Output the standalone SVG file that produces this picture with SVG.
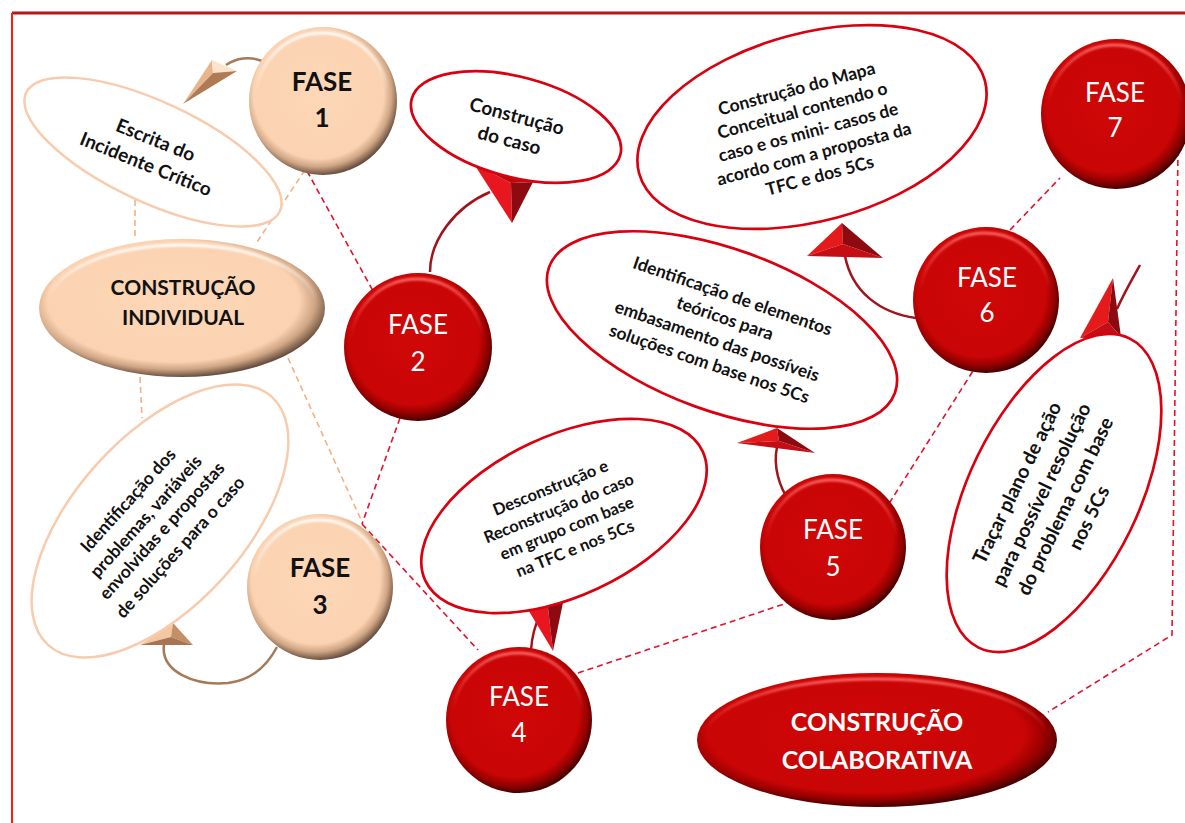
<svg xmlns="http://www.w3.org/2000/svg" width="1185" height="823" viewBox="0 0 1185 823">
<defs>
<style>
  text{font-family:Lato,"Liberation Sans",sans-serif;text-anchor:middle}
  .lbl{font-weight:700;fill:#111}
  .fp{font-size:26px;font-weight:700;fill:#111}
  .fr{font-size:26px;font-weight:400;fill:#fff}
  .dp{fill:none;stroke:#f4b183;stroke-width:1.6;stroke-dasharray:6 4}
  .dr{fill:none;stroke:#e3122b;stroke-width:1.6;stroke-dasharray:6 4}
  .cp{fill:none;stroke:#a47a58;stroke-width:2.5}
  .cr{fill:none;stroke:#a0141c;stroke-width:2.5}
  .ep{fill:#fff;stroke:#f8cbad;stroke-width:2.5}
  .er{fill:#fff;stroke:#d9000f;stroke-width:2.7}
  .hiP{fill:none;stroke:url(#gPeachHi);stroke-width:3}
  .hiR{fill:none;stroke:url(#gRedHi);stroke-width:3}
</style>
<radialGradient id="gRed" cx="0.47" cy="0.45" r="0.55">
  <stop offset="0" stop-color="#cf0707"/>
  <stop offset="0.8" stop-color="#c90505"/>
  <stop offset="0.9" stop-color="#9a0000"/>
  <stop offset="1" stop-color="#480000"/>
</radialGradient>
<radialGradient id="gPeach" cx="0.47" cy="0.45" r="0.55">
  <stop offset="0" stop-color="#fdd7b7"/>
  <stop offset="0.8" stop-color="#fbd3b2"/>
  <stop offset="0.9" stop-color="#cfa584"/>
  <stop offset="1" stop-color="#6a5040"/>
</radialGradient>
<linearGradient id="gRedHi" x1="0" y1="0" x2="0" y2="1">
  <stop offset="0" stop-color="#ff6a6a" stop-opacity="0.95"/>
  <stop offset="0.45" stop-color="#ff4040" stop-opacity="0"/>
</linearGradient>
<linearGradient id="gPeachHi" x1="0" y1="0" x2="0" y2="1">
  <stop offset="0" stop-color="#ffffff" stop-opacity="0.95"/>
  <stop offset="0.45" stop-color="#ffffff" stop-opacity="0"/>
</linearGradient>
<filter id="soft" x="-10%" y="-10%" width="120%" height="120%">
  <feGaussianBlur stdDeviation="0.8"/>
</filter>
</defs>

<rect width="1185" height="823" fill="#fff"/>

<!-- page frame -->
<g id="frame">
  <line x1="12" y1="13" x2="1185" y2="13" stroke="#b3171c" stroke-width="3"/>
  <line x1="12" y1="13" x2="12" y2="823" stroke="#ff1a1a" stroke-width="2"/>
</g>

<!-- connectors: dashed links, curved arrows and their faceted heads -->
<g id="connectors">
  <line class="dp" x1="135" y1="200" x2="135" y2="240"/>
  <line class="dp" x1="140" y1="377" x2="142" y2="418"/>
  <line class="dp" x1="305" y1="170" x2="255" y2="245"/>
  <line class="dp" x1="288" y1="358" x2="362" y2="522"/>

  <line class="dr" x1="307" y1="171" x2="378" y2="300"/>
  <line class="dr" x1="400" y1="418" x2="362" y2="524"/>
  <line class="dr" x1="362" y1="524" x2="478" y2="650"/>
  <line class="dr" x1="578" y1="673" x2="787" y2="603"/>
  <line class="dr" x1="978" y1="363" x2="890" y2="502"/>
  <line class="dr" x1="1010" y1="230" x2="1060" y2="178"/>
  <polyline class="dr" points="1178,150 1172,635 1048,712"/>

  <!-- FASE 1 -> Escrita -->
  <path class="cp" d="M226,65 C236,58 250,56 262,61"/>
  <polygon points="213,73 183,104 212,60" fill="#e9b58c"/>
  <polygon points="213,73 212,60 237,71" fill="#fbe3cc"/>
  <polygon points="213,73 237,71 183,104" fill="#b07a55"/>

  <!-- FASE 2 -> Construção do caso -->
  <path class="cr" d="M430,272 C430,240 455,207 490,192"/>
  <polygon points="511,183 474,164 512,223" fill="#e8161e"/>
  <polygon points="511,183 533,182 512,223" fill="#8c0a10"/>
  <polygon points="511,183 474,164 533,182" fill="#b80a10"/>

  <!-- FASE 3 -> Identificação dos problemas -->
  <path class="cp" d="M164,644 C160,672 195,686 228,683 C254,680 268,664 277,647"/>
  <polygon points="171,637 140,645 173,623" fill="#f3c7a2"/>
  <polygon points="171,637 173,623 193,645" fill="#c48e66"/>
  <polygon points="171,637 193,645 140,645" fill="#a87452"/>

  <!-- FASE 4 -> Desconstrução -->
  <path class="cr" d="M531,650 C532,636 535,625 540,615"/>
  <polygon points="548,608 521,598 553,651" fill="#e8161e"/>
  <polygon points="548,608 565,593 553,651" fill="#8c0a10"/>
  <polygon points="548,608 521,598 565,593" fill="#b80a10"/>

  <!-- FASE 5 -> Identificação de elementos -->
  <path class="cr" d="M790,502 C779,487 773,466 777,447"/>
  <polygon points="779,441 737,443 777,428" fill="#e51a1a"/>
  <polygon points="779,441 777,428 815,453" fill="#8c0a10"/>
  <polygon points="779,441 815,453 737,443" fill="#c40d14"/>

  <!-- FASE 6 -> Mapa Conceitual -->
  <path class="cr" d="M916,318 C880,313 852,292 845,256"/>
  <polygon points="843,244 807,256 842,223" fill="#e51a1a"/>
  <polygon points="843,244 842,223 883,258" fill="#8c0a10"/>
  <polygon points="843,244 883,258 807,256" fill="#c40d14"/>

  <!-- FASE 7 -> Traçar plano -->
  <path class="cr" d="M1117,309 C1124,293 1131,281 1140,265"/>
  <polygon points="1108,322 1113,278 1080,338" fill="#e51a1a"/>
  <polygon points="1108,322 1113,278 1121,337" fill="#8c0a10"/>
  <polygon points="1108,322 1080,338 1121,337" fill="#c40d14"/>
</g>

<!-- individual construction: text balloons -->
<g id="escrita">
  <ellipse class="ep" cx="0" cy="0" rx="140" ry="50" transform="translate(153,152) rotate(25)"/>
  <g transform="translate(153,152) rotate(22)" class="lbl" font-size="19">
    <text x="-2" y="-5.5">Escrita do</text>
    <text x="-2" y="20.5">Incidente Crítico</text>
  </g>
</g>

<g id="problemas">
  <ellipse class="ep" cx="0" cy="0" rx="85" ry="167" transform="translate(160,521) rotate(42)"/>
  <g transform="translate(160,521) rotate(-48)" class="lbl" font-size="17.5">
    <text x="-6" y="-31.5">Identificação dos</text>
    <text x="-6" y="-7.5">problemas, variáveis</text>
    <text x="-6" y="14">envolvidas e propostas</text>
    <text x="-6" y="38.5">de soluções para o caso</text>
  </g>
</g>

<g id="construcao-individual">
  <ellipse cx="182" cy="308" rx="143" ry="69" fill="url(#gPeach)"/>
  <ellipse class="hiP" cx="182" cy="306" rx="134" ry="61" filter="url(#soft)"/>
  <text class="lbl" x="183" y="295" font-size="21">CONSTRUÇÃO</text>
  <text class="lbl" x="183" y="325" font-size="21">INDIVIDUAL</text>
</g>

<g id="fase1">
  <circle cx="323" cy="101" r="74" fill="url(#gPeach)"/>
  <circle class="hiP" cx="322" cy="99" r="66" filter="url(#soft)"/>
  <text class="fp" x="322" y="91">FASE</text>
  <text class="fp" x="322" y="127">1</text>
</g>

<g id="fase3">
  <circle cx="320" cy="587" r="73" fill="url(#gPeach)"/>
  <circle class="hiP" cx="319" cy="585" r="65" filter="url(#soft)"/>
  <text class="fp" x="320" y="577">FASE</text>
  <text class="fp" x="320" y="614">3</text>
</g>

<!-- collaborative construction: text balloons -->
<g id="caso">
  <ellipse class="er" cx="0" cy="0" rx="108" ry="50" transform="translate(516,127) rotate(15)"/>
  <g transform="translate(516,127) rotate(15)" class="lbl" font-size="19">
    <text x="-2" y="-4">Construção</text>
    <text x="-3" y="21">do caso</text>
  </g>
</g>

<g id="mapa">
  <ellipse class="er" cx="0" cy="0" rx="179" ry="94" transform="translate(812,127) rotate(-15)"/>
  <g transform="translate(812,127) rotate(-15)" class="lbl" font-size="17.5">
    <text x="-5" y="-35">Construção do Mapa</text>
    <text x="-5" y="-12.5">Conceitual contendo o</text>
    <text x="-5" y="10">caso e os mini- casos de</text>
    <text x="-5" y="32.5">acordo com a proposta da</text>
    <text x="-5" y="55">TFC e dos 5Cs</text>
  </g>
</g>

<g id="elementos">
  <ellipse class="er" cx="0" cy="0" rx="184" ry="81" transform="translate(722,330) rotate(20)"/>
  <g transform="translate(722,330) rotate(19)" class="lbl" font-size="17.5">
    <text x="-1" y="-29.5">Identificação de elementos</text>
    <text x="-1" y="-6">teóricos para</text>
    <text x="-1" y="18">embasamento das possíveis</text>
    <text x="-1" y="42">soluções com base nos 5Cs</text>
  </g>
</g>

<g id="desconstrucao">
  <ellipse class="er" cx="0" cy="0" rx="153" ry="80" transform="translate(564,516) rotate(-25)"/>
  <g transform="translate(564,516) rotate(-22)" class="lbl" font-size="16.5">
    <text x="-2" y="-25.5">Desconstrução e</text>
    <text x="-2" y="-3.5">Reconstrução do caso</text>
    <text x="-2" y="18">em grupo com base</text>
    <text x="-2" y="40">na TFC e nos 5Cs</text>
  </g>
</g>

<g id="tracar">
  <ellipse class="er" cx="0" cy="0" rx="85" ry="172" transform="translate(1054,493) rotate(26)"/>
  <g transform="translate(1054,493) rotate(-64)" class="lbl" font-size="19.5">
    <text x="-7" y="-31">Traçar plano de ação</text>
    <text x="-7" y="-4">para possível resolução</text>
    <text x="-7" y="22.5">do problema com base</text>
    <text x="-7" y="49">nos 5Cs</text>
  </g>
</g>

<g id="fase2">
  <circle cx="418" cy="347" r="74" fill="url(#gRed)"/>
  <circle class="hiR" cx="417" cy="345" r="66" filter="url(#soft)"/>
  <text class="fr" x="418" y="334">FASE</text>
  <text class="fr" x="418" y="371">2</text>
</g>

<g id="fase4">
  <circle cx="519" cy="720" r="73" fill="url(#gRed)"/>
  <circle class="hiR" cx="518" cy="718" r="65" filter="url(#soft)"/>
  <text class="fr" x="519" y="706">FASE</text>
  <text class="fr" x="519" y="742">4</text>
</g>

<g id="fase5">
  <circle cx="833" cy="547" r="73" fill="url(#gRed)"/>
  <circle class="hiR" cx="832" cy="545" r="65" filter="url(#soft)"/>
  <text class="fr" x="833" y="539">FASE</text>
  <text class="fr" x="833" y="576">5</text>
</g>

<g id="fase6">
  <circle cx="986" cy="300" r="73" fill="url(#gRed)"/>
  <circle class="hiR" cx="985" cy="298" r="65" filter="url(#soft)"/>
  <text class="fr" x="987" y="287">FASE</text>
  <text class="fr" x="987" y="322">6</text>
</g>

<g id="fase7">
  <circle cx="1116" cy="114" r="75" fill="url(#gRed)"/>
  <circle class="hiR" cx="1115" cy="112" r="67" filter="url(#soft)"/>
  <text class="fr" x="1115" y="102">FASE</text>
  <text class="fr" x="1115" y="137">7</text>
</g>

<g id="construcao-colaborativa">
  <ellipse cx="877" cy="740" rx="180" ry="67" fill="url(#gRed)"/>
  <ellipse class="hiR" cx="876" cy="738" rx="171" ry="59" filter="url(#soft)"/>
  <text x="877" y="731" font-size="25" font-weight="700" fill="#fff">CONSTRUÇÃO</text>
  <text x="877" y="769" font-size="25" font-weight="700" fill="#fff">COLABORATIVA</text>
</g>
</svg>
